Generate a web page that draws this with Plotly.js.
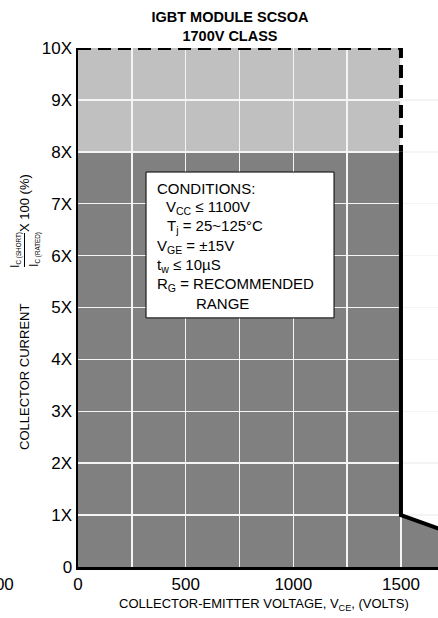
<!DOCTYPE html>
<html>
<head>
<meta charset="utf-8">
<script src="https://cdn.plot.ly/plotly-3.0.1.min.js"></script>
<style>html,body{margin:0;padding:0;background:#fff;}#chart{width:438px;height:618px;}</style>
</head>
<body>
<div id="chart"></div>
<script>
// ---- data ----
const titleLines = ["IGBT MODULE SCSOA", "1700V CLASS"];
const yTickVals = [0, 1, 2, 3, 4, 5, 6, 7, 8, 9, 10];
const yTickText = ["0", "1X", "2X", "3X", "4X", "5X", "6X", "7X", "8X", "9X", "10X"];
const xTickVals = [0, 500, 1000, 1500];
const xTickText = ["0", "500", "1000", "1500"];
const xMinorVals = [250, 750, 1250, 1750];
const xTitle = "COLLECTOR-EMITTER VOLTAGE, V<sub>CE</sub>, (VOLTS)";
// SCSOA boundary (V, multiple of rated current)
const limitV = [0, 1500, 1500];        // dashed upper limit
const limitI = [10, 10, 8];
const soaV = [1500, 1500, 1700];        // solid SCSOA boundary
const soaI = [8, 1, 0.7];
const ratedLevel = 8;                   // light/dark boundary
const conditions = [
  "CONDITIONS:",
  "V<sub>CC</sub> ≤ 1100V",
  "T<sub>j</sub> = 25~125°C",
  "V<sub>GE</sub> = ±15V",
  "t<sub>w</sub> ≤ 10µS",
  "R<sub>G</sub> = RECOMMENDED",
  "RANGE"
];
const boxV = [316, 1189];
const boxI = [4.80, 7.61];

// ---- layout helpers (pixel -> paper) ----
const L = 78, T = 48, W = 360, H = 519;
const px = x => (x - L) / W;
const py = y => (T + H - y) / H;
const FONT = "Liberation Sans, Arial, Helvetica, sans-serif";

// fills built from the data
const darkPath = "M " + limitV[0] + ",0 L " + limitV[0] + "," + ratedLevel +
  " L " + soaV[0] + "," + soaI[0] + " L " + soaV[1] + "," + soaI[1] +
  " L " + soaV[2] + "," + soaI[2] + " L " + soaV[2] + ",0 Z";

const traces = [
  {x: limitV, y: limitI, mode: "lines", cliponaxis: false, hoverinfo: "skip",
   line: {color: "#000", width: 4, dash: "13px,7px"}},
  {x: soaV, y: soaI, mode: "lines", cliponaxis: false, hoverinfo: "skip",
   line: {color: "#000", width: 4}}
];

const condX = [155, 164, 165, 155, 155, 155, 194];
const condY = [188, 207, 226, 246, 265, 284, 303];

const annotations = [];
conditions.forEach((t, i) => annotations.push({
  text: t, x: px(condX[i]), y: py(condY[i]), xref: "paper", yref: "paper",
  showarrow: false, xanchor: "left", yanchor: "middle",
  font: {family: FONT, size: 15, color: "#000"}
}));

// x-axis title
annotations.push({text: xTitle, x: px(263.5), y: py(604), xref: "paper", yref: "paper",
  showarrow: false, xanchor: "center", yanchor: "middle",
  font: {family: FONT, size: 13, color: "#000"}});

// y-axis title pieces
const bigI = "<span style='font-size:12.5px'>I</span>";
const yTitleParts = [
  {text: "COLLECTOR CURRENT", x: 24, y: 377, size: 13},
  {text: bigI + "<sub>C (SHORT)</sub>", x: 15, y: 250, size: 9},
  {text: bigI + "<sub>C (RATED)</sub>", x: 34, y: 250, size: 9},
  {text: "X 100 (%)", x: 24, y: 203, size: 13}
];
yTitleParts.forEach(p => annotations.push({
  text: p.text, x: px(p.x), y: py(p.y), xref: "paper", yref: "paper",
  showarrow: false, textangle: -90, xanchor: "center", yanchor: "middle",
  font: {family: FONT, size: p.size, color: "#000"}
}));
// stray label from neighbouring chart
annotations.push({text: "1500", x: px(16), y: py(584), xref: "paper", yref: "paper",
  showarrow: false, xanchor: "right", yanchor: "middle",
  font: {family: FONT, size: 17, color: "#000"}});

const shapes = [
  {type: "rect", xref: "x", yref: "y", x0: limitV[0], x1: limitV[1], y0: ratedLevel, y1: limitI[0],
   fillcolor: "#c0c0c0", line: {width: 0}, layer: "below"},
  {type: "path", xref: "x", yref: "y", path: darkPath,
   fillcolor: "#808080", line: {width: 0}, layer: "below"},
  {type: "rect", xref: "x", yref: "y", x0: boxV[0], x1: boxV[1], y0: boxI[0], y1: boxI[1],
   fillcolor: "#fff", line: {color: "#000", width: 1}, layer: "above"},
  {type: "line", xref: "paper", yref: "paper", x0: px(24.5), x1: px(24.5), y0: py(233), y1: py(267),
   line: {color: "#000", width: 1}}
];

const gridC = "#f4f4f4";
const layout = {
  width: 438, height: 618,
  margin: {l: L, r: 438 - L - W, t: T, b: 618 - T - H, pad: 0},
  paper_bgcolor: "#fff", plot_bgcolor: "#fff",
  showlegend: false,
  font: {family: FONT, color: "#000"},
  title: {text: titleLines.join("<br>"), xref: "container", yref: "container",
          x: 230 / 438, y: 1 - 22 / 618, xanchor: "center", yanchor: "middle",
          font: {family: FONT, size: 14.5, color: "#000", weight: "bold"}},
  xaxis: {
    range: [0, 1672], tickvals: xTickVals, ticktext: xTickText,
    showgrid: true, gridcolor: gridC, gridwidth: 1.5,
    minor: {tickvals: xMinorVals, showgrid: true, gridcolor: gridC, gridwidth: 1.5, ticks: ""},
    zeroline: false, showline: true, linecolor: "#000", linewidth: 2.5,
    ticks: "", tickfont: {family: FONT, size: 17, color: "#000"},
    fixedrange: true
  },
  yaxis: {
    range: [0, 10], tickvals: yTickVals, ticktext: yTickText,
    showgrid: true, gridcolor: gridC, gridwidth: 1.5,
    zeroline: false, showline: true, linecolor: "#000", linewidth: 2.5,
    ticks: "", tickfont: {family: FONT, size: 17, color: "#000"},
    fixedrange: true
  },
  shapes: shapes,
  annotations: annotations
};

Plotly.newPlot("chart", traces, layout, {displayModeBar: false, staticPlot: true});
</script>
</body>
</html>
